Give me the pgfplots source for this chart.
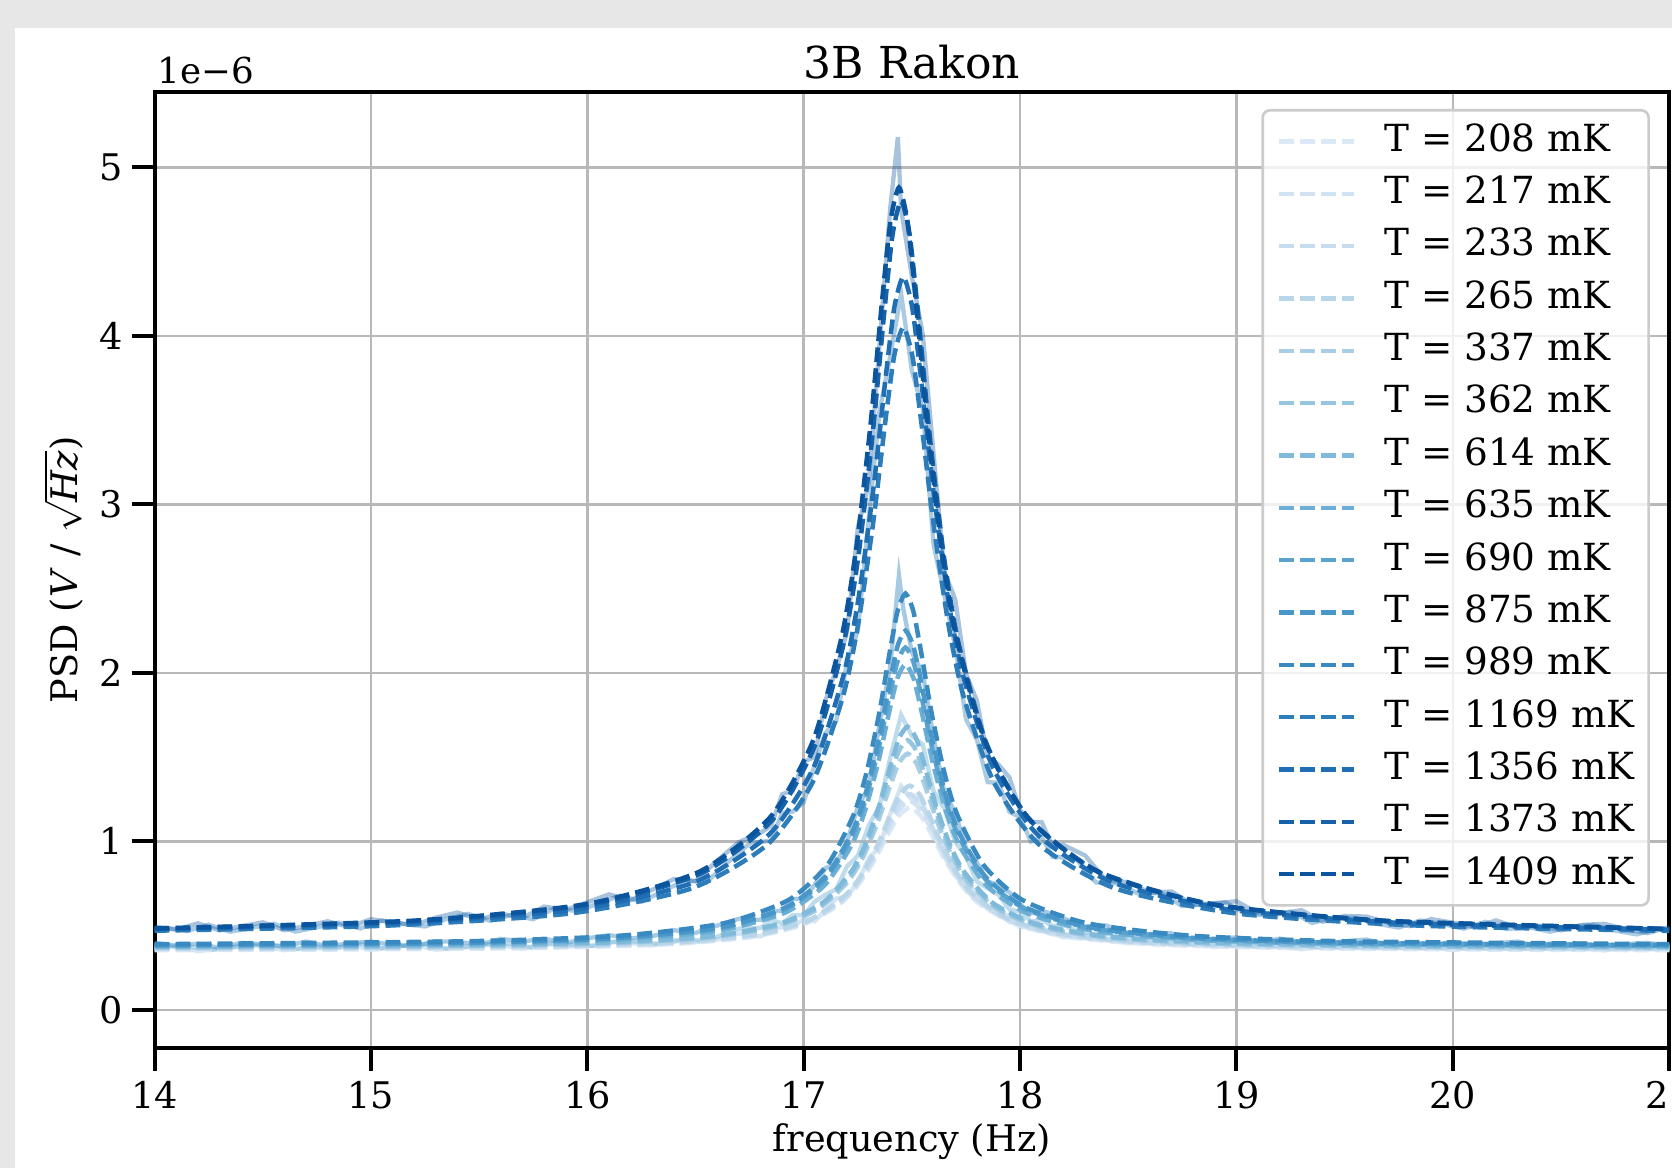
\documentclass[border=0pt]{standalone}
\usepackage{fontspec}
\setmainfont{DejaVu Serif}
\usepackage{pgfplots}
\pgfplotsset{compat=1.18}

\definecolor{c0}{RGB}{219,233,246}
\definecolor{c1}{RGB}{209,226,243}
\definecolor{c2}{RGB}{199,220,239}
\definecolor{c3}{RGB}{184,213,234}
\definecolor{c4}{RGB}{167,206,228}
\definecolor{c5}{RGB}{149,197,223}
\definecolor{c6}{RGB}{128,186,219}
\definecolor{c7}{RGB}{107,174,214}
\definecolor{c8}{RGB}{90,163,207}
\definecolor{c9}{RGB}{73,151,201}
\definecolor{c10}{RGB}{58,138,194}
\definecolor{c11}{RGB}{45,125,187}
\definecolor{c12}{RGB}{32,111,180}
\definecolor{c13}{RGB}{21,98,169}
\definecolor{c14}{RGB}{11,85,159}
\definecolor{bggray}{RGB}{231,231,231}
\definecolor{gridgray}{RGB}{184,184,184}

\pgfplotsset{
  fit/.style={dash pattern=on 4.4bp off 1.9bp, line width=1.35bp, smooth, tension=0.4, mark=none},
  data/.style={solid, line width=1.3bp, mark=none, forget plot},
}

\begin{document}
\begin{tikzpicture}
\fill[bggray] (0,0) rectangle (501.6bp,350.4bp);
\fill[white] (4.5bp,0) rectangle (501.6bp,342bp);
\begin{axis}[
  at={(46.38bp,36bp)}, anchor=south west,
  scale only axis, width=454.4bp, height=286.9bp,
  xmin=14, xmax=21, ymin=-0.227, ymax=5.449,
  xtick={14,15,...,21}, ytick={0,1,...,5},
  tick pos=left, tick align=outside,
  major tick length=6.8bp,
  tick style={black, line width=1.2bp},
  axis line style={line width=1.2bp},
  grid=major, grid style={gridgray, line width=0.75bp},
  /pgf/number format/assume math mode=true,
  ticklabel style={font=\fontsize{11bp}{13bp}\selectfont},
  xticklabel style={anchor=base, yshift=-11.4bp, inner sep=0pt},
  yticklabel style={anchor=east, xshift=-2.5bp, inner sep=0pt},
  title={3B Rakon},
  every axis title/.style={font=\fontsize{13.2bp}{15bp}\selectfont, at={(axis description cs:0.5,1)}, anchor=base, yshift=3.9bp, inner sep=0pt},
  xlabel={frequency (Hz)},
  xlabel style={font=\fontsize{11bp}{13bp}\selectfont, at={(axis description cs:0.5,0)}, anchor=base, yshift=-31.1bp, inner sep=0pt},
  ylabel={PSD (\textit{V} / $\sqrt{\mbox{\textit{Hz}}}$)},
  ylabel style={font=\fontsize{11bp}{13bp}\selectfont, at={(axis description cs:-0.0506,0.5)}, anchor=base, inner sep=0pt},
  legend style={
    at={(axis description cs:1,1)}, anchor=north east, xshift=-5.8bp, yshift=-5.2bp,
    draw=black!20, line width=0.8bp, rounded corners=2.2bp,
    fill=white, fill opacity=0.8, draw opacity=1, text opacity=1,
    font=\fontsize{11.2bp}{13bp}\selectfont,
    inner xsep=4.2bp, inner ysep=4.1bp,
    row sep=5.2bp, column sep=0pt,
    nodes={inner sep=0pt, text height=8.2bp, text depth=2.3bp},
  },
  legend cell align=left,
  legend image code/.code={\draw[#1] (0bp,0bp) -- (22.5bp,0bp); \path (31bp,0bp);},
]
% ---- measured (noisy) traces ----
\addplot[data, c3, opacity=0.6] coordinates {
(14.0,.375)(14.1,.371)(14.2,.349)(14.3,.361)(14.4,.381)(14.5,.375)(14.6,.354)(14.7,.369)(14.8,.361)(14.9,.385)(15.0,.358)(15.1,.374)(15.2,.384)(15.3,.357)(15.4,.367)(15.5,.385)(15.6,.384)(15.7,.361)(15.8,.394)(15.9,.377)(16.0,.373)(16.1,.405)(16.2,.396)(16.3,.381)(16.4,.414)(16.5,.401)(16.6,.417)(16.7,.452)(16.8,.435)(16.85,.48)(16.9,.49)(16.95,.493)(17.0,.538)(17.05,.525)(17.1,.591)(17.15,.66)(17.2,.673)(17.25,.756)(17.3,.898)(17.35,.965)(17.4,1.163)(17.45,1.327)(17.5,1.246)(17.55,1.226)(17.6,1.058)(17.65,.968)(17.7,.796)(17.75,.746)(17.8,.697)(17.85,.60)(17.9,.565)(17.95,.562)(18.0,.489)(18.05,.50)(18.1,.488)(18.15,.453)(18.2,.43)(18.3,.445)(18.4,.419)(18.5,.395)(18.6,.418)(18.7,.386)(18.8,.391)(18.9,.372)(19.0,.392)(19.1,.395)(19.2,.374)(19.3,.359)(19.4,.383)(19.5,.384)(19.6,.366)(19.7,.384)(19.8,.361)(19.9,.375)(20.0,.353)(20.1,.379)(20.2,.371)(20.3,.356)(20.4,.382)(20.5,.359)(20.6,.367)(20.7,.352)(20.8,.373)(20.9,.379)(21.0,.36)};
\addplot[data, c6, opacity=0.5] coordinates {
(14.05,.381)(14.15,.377)(14.25,.355)(14.35,.367)(14.45,.387)(14.55,.381)(14.65,.36)(14.75,.375)(14.85,.367)(14.95,.391)(15.05,.364)(15.15,.38)(15.25,.39)(15.35,.363)(15.45,.373)(15.55,.391)(15.65,.39)(15.75,.367)(15.85,.40)(15.95,.383)(16.05,.379)(16.15,.411)(16.25,.402)(16.35,.387)(16.45,.42)(16.55,.407)(16.6,.434)(16.7,.481)(16.8,.485)(16.85,.533)(16.9,.513)(16.95,.562)(17.0,.561)(17.05,.641)(17.1,.683)(17.15,.715)(17.2,.85)(17.25,.914)(17.3,1.092)(17.35,1.209)(17.4,1.497)(17.45,1.75)(17.5,1.625)(17.55,1.574)(17.6,1.297)(17.65,1.194)(17.7,.997)(17.75,.909)(17.8,.761)(17.85,.721)(17.9,.683)(17.95,.596)(18.0,.582)(18.05,.524)(18.1,.534)(18.15,.497)(18.2,.504)(18.3,.446)(18.4,.452)(18.45,.435)(18.55,.411)(18.65,.434)(18.75,.402)(18.85,.407)(18.95,.388)(19.05,.408)(19.15,.411)(19.25,.39)(19.35,.375)(19.45,.399)(19.55,.396)(19.65,.378)(19.75,.396)(19.85,.373)(19.95,.387)(20.05,.365)(20.15,.391)(20.25,.383)(20.35,.368)(20.45,.394)(20.55,.371)(20.65,.379)(20.75,.364)(20.85,.385)(20.95,.391)};
\addplot[data, c10, opacity=0.45] coordinates {
(14.0,.398)(14.1,.379)(14.2,.392)(14.3,.367)(14.4,.397)(14.5,.388)(14.6,.377)(14.7,.405)(14.8,.377)(14.9,.394)(15.0,.405)(15.1,.385)(15.2,.378)(15.3,.406)(15.4,.404)(15.5,.386)(15.6,.421)(15.7,.405)(15.8,.422)(15.9,.396)(16.0,.424)(16.1,.443)(16.2,.423)(16.3,.436)(16.4,.472)(16.5,.456)(16.6,.50)(16.7,.54)(16.8,.533)(16.85,.583)(16.9,.588)(16.95,.659)(17.0,.656)(17.05,.741)(17.1,.84)(17.15,.868)(17.2,.995)(17.25,1.206)(17.3,1.318)(17.35,1.693)(17.4,2.04)(17.44,2.58)(17.46,2.38)(17.5,2.12)(17.55,1.998)(17.6,1.616)(17.65,1.29)(17.7,1.17)(17.75,.96)(17.8,.874)(17.85,.762)(17.9,.738)(17.95,.697)(18.0,.624)(18.05,.573)(18.1,.587)(18.15,.567)(18.2,.543)(18.3,.493)(18.4,.50)(18.5,.448)(18.6,.450)(18.7,.454)(18.8,.41)(18.9,.418)(19.0,.43)(19.1,.398)(19.2,.422)(19.3,.402)(19.4,.385)(19.5,.407)(19.6,.417)(19.7,.385)(19.8,.397)(19.9,.374)(20.0,.403)(20.1,.382)(20.2,.395)(20.3,.405)(20.4,.373)(20.5,.386)(20.6,.395)(20.7,.370)(20.8,.390)(20.9,.397)(21.0,.377)};
\addplot[data, c11, opacity=0.4] coordinates {
(14.05,.487)(14.15,.467)(14.25,.505)(14.35,.463)(14.45,.487)(14.55,.511)(14.65,.464)(14.75,.489)(14.85,.517)(14.95,.482)(15.05,.530)(15.15,.510)(15.25,.494)(15.35,.539)(15.45,.569)(15.55,.528)(15.65,.563)(15.75,.537)(15.85,.604)(15.95,.585)(16.05,.630)(16.15,.677)(16.25,.642)(16.35,.704)(16.45,.768)(16.55,.756)(16.65,.877)(16.75,.987)(16.8,.996)(16.85,1.004)(16.9,1.168)(16.95,1.176)(17.0,1.231)(17.05,1.453)(17.1,1.642)(17.15,1.712)(17.2,2.06)(17.25,2.25)(17.3,2.91)(17.35,3.55)(17.4,3.88)(17.45,4.25)(17.5,3.79)(17.55,3.57)(17.6,2.76)(17.65,2.46)(17.7,2.157)(17.75,1.723)(17.8,1.604)(17.85,1.351)(17.9,1.347)(17.95,1.176)(18.0,1.141)(18.05,.998)(18.1,1.025)(18.15,.908)(18.2,.903)(18.25,.908)(18.35,.756)(18.45,.750)(18.55,.687)(18.65,.694)(18.75,.615)(18.85,.625)(18.95,.636)(19.05,.565)(19.15,.561)(19.25,.583)(19.35,.515)(19.45,.549)(19.55,.545)(19.65,.510)(19.75,.488)(19.85,.530)(19.95,.509)(20.05,.481)(20.15,.522)(20.25,.479)(20.35,.490)(20.45,.463)(20.55,.496)(20.65,.502)(20.75,.470)(20.85,.447)(20.95,.483)};
\addplot[data, c14, opacity=0.35] coordinates {
(14.0,.495)(14.1,.475)(14.2,.513)(14.3,.471)(14.4,.495)(14.5,.519)(14.6,.472)(14.7,.497)(14.8,.525)(14.9,.490)(15.0,.538)(15.1,.518)(15.2,.502)(15.3,.547)(15.4,.577)(15.5,.536)(15.6,.571)(15.7,.545)(15.8,.612)(15.9,.593)(16.0,.638)(16.1,.685)(16.2,.650)(16.3,.712)(16.4,.776)(16.5,.764)(16.6,.885)(16.7,.995)(16.8,1.049)(16.85,1.094)(16.9,1.279)(16.95,1.301)(17.0,1.473)(17.05,1.50)(17.1,1.835)(17.15,2.018)(17.2,2.242)(17.25,2.86)(17.3,3.12)(17.35,3.945)(17.4,4.76)(17.435,5.18)(17.45,4.75)(17.5,4.35)(17.55,4.01)(17.6,3.30)(17.65,2.60)(17.7,2.436)(17.75,1.994)(17.8,1.835)(17.85,1.50)(17.9,1.455)(17.95,1.38)(18.0,1.183)(18.05,1.115)(18.1,1.113)(18.15,.969)(18.2,.978)(18.3,.916)(18.4,.764)(18.5,.758)(18.6,.695)(18.7,.702)(18.8,.623)(18.9,.633)(19.0,.644)(19.1,.573)(19.2,.569)(19.3,.591)(19.4,.523)(19.5,.557)(19.6,.553)(19.7,.518)(19.8,.496)(19.9,.538)(20.0,.517)(20.1,.489)(20.2,.530)(20.3,.487)(20.4,.498)(20.5,.471)(20.6,.504)(20.7,.510)(20.8,.478)(20.9,.455)(21.0,.491)};
% ---- fitted curves ----
\addplot[fit, c0] coordinates {(14,.3541)(14.685,.3565)(15.675,.3651)(16.335,.3859)(16.7475,.4295)(16.995,.5043)(17.16,.6213)(17.2425,.7266)(17.325,.8839)(17.391,1.0447)(17.4405,1.1538)(17.49,1.20)(17.5395,1.1538)(17.589,1.0447)(17.655,.8839)(17.7375,.7266)(17.82,.6213)(17.985,.5043)(18.2325,.4295)(18.645,.3859)(19.305,.3651)(20.295,.3565)(21,.3541)};
\addlegendentry{T = 208 mK}
\addplot[fit, c1] coordinates {(14,.3592)(14.77,.3618)(15.73,.3709)(16.37,.3927)(16.77,.4386)(17.01,.5169)(17.17,.6390)(17.25,.7486)(17.33,.9120)(17.394,1.0789)(17.442,1.1921)(17.49,1.24)(17.538,1.1921)(17.586,1.0789)(17.65,.9120)(17.73,.7486)(17.81,.6390)(17.97,.5169)(18.21,.4386)(18.61,.3927)(19.25,.3709)(20.21,.3618)(21,.3592)};
\addlegendentry{T = 217 mK}
\addplot[fit, c2] coordinates {(14,.3641)(14.855,.3672)(15.785,.3768)(16.405,.3997)(16.7925,.4479)(17.025,.5296)(17.18,.6568)(17.2575,.7707)(17.335,.9402)(17.397,1.1131)(17.4435,1.2304)(17.49,1.28)(17.5365,1.2304)(17.583,1.1131)(17.645,.9402)(17.7225,.7707)(17.80,.6568)(17.955,.5296)(18.1875,.4479)(18.575,.3997)(19.195,.3768)(20.125,.3672)(21,.3641)};
\addlegendentry{T = 233 mK}
\addplot[fit, c3] coordinates {(14,.3642)(14.94,.3678)(15.84,.3782)(16.44,.4030)(16.815,.4546)(17.04,.5418)(17.19,.6764)(17.265,.7962)(17.34,.9743)(17.40,1.1554)(17.445,1.2781)(17.49,1.33)(17.535,1.2781)(17.58,1.1554)(17.64,.9743)(17.715,.7962)(17.79,.6764)(17.94,.5418)(18.165,.4546)(18.54,.4030)(19.14,.3782)(20.04,.3678)(21,.3641)};
\addlegendentry{T = 265 mK}
\addplot[fit, c4] coordinates {(14,.3697)(15.10,.3751)(15.94,.3887)(16.50,.4204)(16.85,.4855)(17.06,.5924)(17.20,.7541)(17.27,.8962)(17.34,1.1053)(17.396,1.3169)(17.438,1.4597)(17.48,1.52)(17.522,1.4597)(17.564,1.3169)(17.62,1.1053)(17.69,.8962)(17.76,.7541)(17.90,.5924)(18.11,.4855)(18.46,.4204)(19.02,.3887)(19.86,.3751)(21,.3696)};
\addlegendentry{T = 337 mK}
\addplot[fit, c5] coordinates {(14,.3700)(15.185,.3763)(15.995,.3913)(16.535,.4263)(16.8725,.4974)(17.075,.6131)(17.21,.7865)(17.2775,.9380)(17.345,1.1604)(17.399,1.3848)(17.4395,1.5361)(17.48,1.60)(17.5205,1.5361)(17.561,1.3848)(17.615,1.1604)(17.6825,.9380)(17.75,.7865)(17.885,.6131)(18.0875,.4974)(18.425,.4263)(18.965,.3913)(19.775,.3763)(21,.3698)};
\addlegendentry{T = 362 mK}
\addplot[fit, c6] coordinates {(14,.3750)(15.27,.3823)(16.05,.3986)(16.57,.4366)(16.895,.5131)(17.09,.6368)(17.22,.8210)(17.285,.9814)(17.35,1.2164)(17.402,1.4531)(17.441,1.6126)(17.48,1.68)(17.519,1.6126)(17.558,1.4531)(17.61,1.2164)(17.675,.9814)(17.74,.8210)(17.87,.6368)(18.065,.5131)(18.39,.4366)(18.91,.3986)(19.69,.3823)(21,.3749)};
\addlegendentry{T = 614 mK}
\addplot[fit, c7] coordinates {(14,.3771)(15.345,.3885)(16.095,.4126)(16.595,.4671)(16.9075,.5729)(17.095,.7372)(17.22,.9747)(17.2825,1.1781)(17.345,1.4730)(17.395,1.7681)(17.4325,1.9664)(17.47,2.05)(17.5075,1.9664)(17.545,1.7681)(17.595,1.4730)(17.6575,1.1781)(17.72,.9747)(17.845,.7372)(18.0325,.5729)(18.345,.4671)(18.845,.4126)(19.595,.3885)(21,.3768)};
\addlegendentry{T = 635 mK}
\addplot[fit, c8] coordinates {(14,.3826)(15.345,.3951)(16.095,.4212)(16.595,.4798)(16.9075,.5929)(17.095,.7673)(17.22,1.0183)(17.2825,1.2328)(17.345,1.5433)(17.395,1.8537)(17.4325,2.0621)(17.47,2.15)(17.5075,2.0621)(17.545,1.8537)(17.595,1.5433)(17.6575,1.2328)(17.72,1.0183)(17.845,.7673)(18.0325,.5929)(18.345,.4798)(18.845,.4212)(19.595,.3951)(21,.3824)};
\addlegendentry{T = 690 mK}
\addplot[fit, c9] coordinates {(14,.3830)(15.396,.3970)(16.128,.4254)(16.616,.4889)(16.921,.6101)(17.104,.7955)(17.226,1.0607)(17.287,1.2865)(17.348,1.6130)(17.3968,1.9390)(17.4334,2.1578)(17.47,2.25)(17.5066,2.1578)(17.5432,1.9390)(17.592,1.6130)(17.653,1.2865)(17.714,1.0607)(17.836,.7955)(18.019,.6101)(18.324,.4889)(18.812,.4254)(19.544,.3970)(21,.3827)};
\addlegendentry{T = 875 mK}
\addplot[fit, c10] coordinates {(14,.3892)(15.43,.4062)(16.15,.4396)(16.63,.5133)(16.93,.6517)(17.11,.8603)(17.23,1.1557)(17.29,1.4061)(17.35,1.7671)(17.398,2.1270)(17.434,2.3683)(17.47,2.47)(17.506,2.3683)(17.542,2.1270)(17.59,1.7671)(17.65,1.4061)(17.71,1.1557)(17.83,.8603)(18.01,.6517)(18.31,.5133)(18.79,.4396)(19.51,.4062)(21,.3890)};
\addlegendentry{T = 989 mK}
\addplot[fit, c11] coordinates {(14,.4692)(15.08,.4995)(15.92,.5714)(16.48,.7196)(16.83,.978)(17.04,1.347)(17.18,1.8535)(17.25,2.276)(17.32,2.881)(17.376,3.480)(17.418,3.881)(17.46,4.05)(17.502,3.881)(17.544,3.480)(17.60,2.881)(17.67,2.276)(17.74,1.8535)(17.88,1.347)(18.09,.978)(18.44,.7196)(19.00,.5714)(19.84,.4995)(21,.4679)};
\addlegendentry{T = 1169 mK}
\addplot[fit, c12] coordinates {(14,.4772)(15.114,.5124)(15.942,.5929)(16.494,.7566)(16.839,1.0388)(17.046,1.439)(17.184,1.986)(17.253,2.441)(17.322,3.092)(17.3772,3.737)(17.4186,4.168)(17.46,4.35)(17.5014,4.168)(17.5428,3.737)(17.598,3.092)(17.667,2.441)(17.736,1.986)(17.874,1.439)(18.081,1.0388)(18.426,.7566)(18.978,.5929)(19.806,.5124)(21,.4758)};
\addlegendentry{T = 1356 mK}
\addplot[fit, c13] coordinates {(14,.4812)(15.206,.5261)(15.998,.6207)(16.526,.8092)(16.856,1.128)(17.054,1.575)(17.186,2.183)(17.252,2.688)(17.318,3.409)(17.3708,4.122)(17.4104,4.599)(17.45,4.80)(17.4896,4.599)(17.5292,4.122)(17.582,3.409)(17.648,2.688)(17.714,2.183)(17.846,1.575)(18.044,1.128)(18.374,.8092)(18.902,.6207)(19.694,.5261)(21,.4790)};
\addlegendentry{T = 1373 mK}
\addplot[fit, c14] coordinates {(14,.4824)(15.196,.5287)(15.988,.6258)(16.516,.8187)(16.846,1.1443)(17.044,1.600)(17.176,2.218)(17.242,2.732)(17.308,3.465)(17.3608,4.191)(17.4004,4.676)(17.44,4.88)(17.4796,4.676)(17.5192,4.191)(17.572,3.465)(17.638,2.732)(17.704,2.218)(17.836,1.600)(18.034,1.1443)(18.364,.8187)(18.892,.6258)(19.684,.5287)(21,.4800)};
\addlegendentry{T = 1409 mK}
\end{axis}
\node[anchor=base west, inner sep=0pt, font=\fontsize{10.7bp}{12bp}\selectfont] at (47.1bp,325.2bp) {1e−6};
\pgfresetboundingbox
\useasboundingbox (0,0) rectangle (501.6bp,350.4bp);
\end{tikzpicture}
\end{document}
